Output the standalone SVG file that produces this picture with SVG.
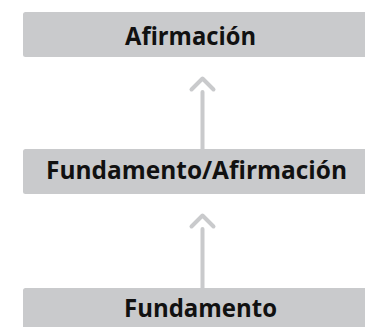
<svg xmlns="http://www.w3.org/2000/svg" width="365" height="327" viewBox="0 0 365 327">
<style>
.box{fill:#c9cacc}
.lbl{font-family:"Open Sans","Noto Sans",sans-serif;font-weight:700;font-size:25px;fill:#111;text-anchor:middle}
.con{stroke:#c9cacc;stroke-width:4;fill:none;stroke-linecap:round;stroke-linejoin:round}
</style>
<rect width="365" height="327" fill="#fff"/>
<g id="connectors">
<path class="con" d="M202.5 149V92M191.5 89.5L202.5 78.5L213.5 89.5"/>
<path class="con" d="M202.5 288V229M191.5 226.5L202.5 215.5L213.5 226.5"/>
</g>
<g id="afirmacion">
<rect class="box" x="23" y="12" width="350" height="45" rx="2.5"/>
<text class="lbl" x="190.5" y="45" textLength="131" lengthAdjust="spacingAndGlyphs">Afirmación</text>
</g>
<g id="fundamento-afirmacion">
<rect class="box" x="23" y="149" width="350" height="45" rx="2.5"/>
<text class="lbl" x="196.5" y="179" textLength="301" lengthAdjust="spacingAndGlyphs">Fundamento/Afirmación</text>
</g>
<g id="fundamento">
<rect class="box" x="23" y="288" width="350" height="45" rx="2.5"/>
<text class="lbl" x="200.5" y="317" textLength="153" lengthAdjust="spacingAndGlyphs">Fundamento</text>
</g>
</svg>
